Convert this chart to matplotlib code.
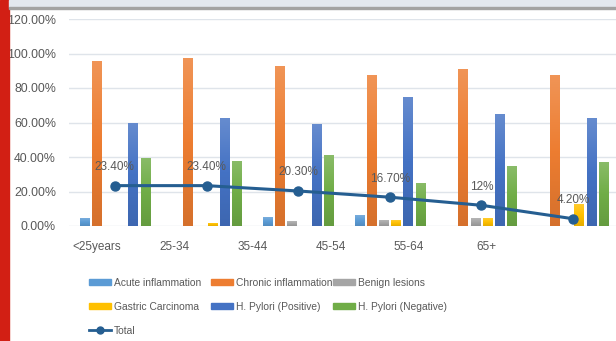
import numpy as np
import matplotlib.pyplot as plt
from matplotlib.patches import Rectangle
from matplotlib.lines import Line2D
from matplotlib.colors import to_rgb, LinearSegmentedColormap

plt.rcParams['font.family'] = ['Liberation Sans', 'DejaVu Sans']

age_groups = ['<25years', '25-34', '35-44', '45-54', '55-64', '65+']

acute = [4.5, 0, 5.0, 6.2, 0, 0]
chronic = [95.7, 97.5, 92.7, 87.4, 91.3, 87.4]
benign = [0, 0, 2.7, 3.3, 4.5, 0]
gastric = [0, 2.0, 0, 3.3, 4.5, 12.5]
hp_pos = [59.9, 62.4, 59.1, 74.8, 64.7, 62.4]
hp_neg = [39.7, 37.8, 40.9, 25.2, 34.7, 37.0]
total = [23.4, 23.4, 20.3, 16.7, 12.0, 4.2]
total_labels = ['23.40%', '23.40%', '20.30%', '16.70%', '12%', '4.20%']

series = [
    ('Acute inflammation', acute, '#5b9bd5'),
    ('Chronic inflammation', chronic, '#ed7d31'),
    ('Benign lesions', benign, '#a5a5a5'),
    ('Gastric Carcinoma', gastric, '#ffc000'),
    ('H. Pylori (Positive)', hp_pos, '#4472c4'),
    ('H. Pylori (Negative)', hp_neg, '#70ad47'),
]

text_color = '#595959'
line_color = '#255e91'
W, H = 616, 341


def bar_gradient(color):
    # lighter at the top, slightly darker at the base
    c = np.array(to_rgb(color))
    top = c + (1 - c) * 0.18
    bottom = c * 0.9
    return LinearSegmentedColormap.from_list('g', [bottom, c, top])


fig = plt.figure(figsize=(W / 100, H / 100), dpi=100)

# frame decorations: red strip on the left, grey band on top
fig.patches.append(Rectangle((0, 0), 8.5 / W, 1, transform=fig.transFigure,
                             color='#d21f14', zorder=0))
fig.patches.append(Rectangle((8.5 / W, 1 - 6.5 / H), 1, 6.5 / H,
                             transform=fig.transFigure, color='#e3e8ef', zorder=0))
fig.patches.append(Rectangle((8.5 / W, 1 - 8.5 / H), 1, 2 / H,
                             transform=fig.transFigure, color='#a3a3a3', zorder=0))

ax = fig.add_axes([69 / W, 115 / H, 550 / W, 207 / H])

x = np.arange(len(age_groups))
bar_w = 0.104
pitch = 0.133
handles = {}
grad = np.linspace(0, 1, 64).reshape(-1, 1)
for k, (name, vals, color) in enumerate(series):
    v = np.array(vals, dtype=float)
    mask = v > 0
    bars = ax.bar(x[mask] + (k - 2.5) * pitch, v[mask], width=bar_w,
                  color=color, zorder=3)
    cmap = bar_gradient(color)
    for p in bars:
        bx, by = p.get_x(), p.get_y()
        im = ax.imshow(grad, cmap=cmap, origin='lower', aspect='auto',
                       extent=(bx, bx + p.get_width(), by, by + p.get_height()),
                       zorder=3.5)
        im.set_clip_path(p)
    handles[name] = Rectangle((0, 0), 1, 1, color=color)

ax.plot(x, total, color=line_color, lw=2.2, marker='o', ms=6.5, zorder=5)
for xi, yi, lab in zip(x, total, total_labels):
    ax.annotate(lab, (xi, yi), xytext=(0, 9), textcoords='offset points',
                ha='center', va='bottom', fontsize=8.5, color=text_color, zorder=6)
handles['Total'] = Line2D([], [], color=line_color, lw=2.0, marker='o', ms=5)

ax.set_xlim(-0.5, 5.5)
ax.set_ylim(0, 120)
ax.set_yticks(np.arange(0, 121, 20))
ax.set_yticklabels([f'{v:.2f}%' for v in range(0, 121, 20)])
ax.tick_params(axis='y', length=0, pad=9.4, labelsize=8.9, labelcolor=text_color)
ax.grid(axis='y', color='#dfe4ea', lw=1.0, zorder=0)
for s in ax.spines.values():
    s.set_visible(False)

# category labels sit on their own row below the plot
ax.set_xticks([])
for i, lab in enumerate(age_groups):
    ax.text(-0.194 + 0.849 * i, -12.3, lab, ha='center', va='center',
            fontsize=8.5, color=text_color, clip_on=False)

# legend laid out in three fixed-width columns
columns = [['Acute inflammation', 'Gastric Carcinoma', 'Total'],
           ['Chronic inflammation', 'H. Pylori (Positive)'],
           ['Benign lesions', 'H. Pylori (Negative)']]
for c, names in enumerate(columns):
    leg = fig.legend([handles[n] for n in names], names, frameon=False,
                     loc='upper left',
                     bbox_to_anchor=((89 + 122 * c) / W, 1 - 278 / H),
                     fontsize=7.4, handlelength=2.15, handleheight=0.55,
                     handletextpad=0.3, labelspacing=1.35,
                     borderaxespad=0, borderpad=0)
    for t in leg.get_texts():
        t.set_color(text_color)

fig.savefig('out.png', dpi=100)
